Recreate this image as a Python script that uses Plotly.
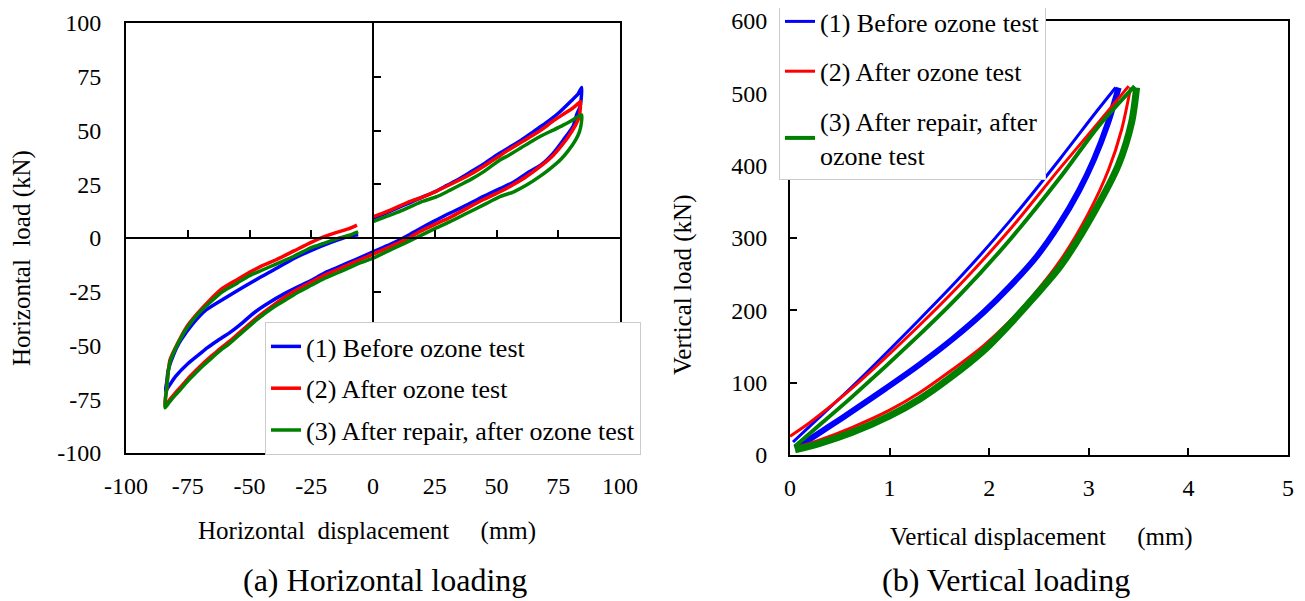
import plotly.graph_objects as go

# ---------------- data: (a) horizontal loading (path: upper-right -> peak -> lower -> bottom-left -> upper-left)
h_names = ["(1) Before ozone test", "(2) After ozone test", "(3) After repair, after ozone test"]
h_colors = ["#0000FF", "#FF0000", "#008000"]

h1_x = [0, 5, 10, 15, 20, 25, 30, 35, 40, 45, 50, 55, 60, 65, 70, 75, 80, 83, 84.5,
        84.3, 83.8, 82.5, 81, 77, 73, 68, 62.2, 57, 51.4, 45, 37.9, 31, 24.4, 19, 13.6, 7, 0,
        -5, -10, -15, -20, -24.7, -30, -36, -42, -47.6, -54, -58, -63, -67, -70, -75, -80, -84,
        -83.5, -83, -82, -81, -79.5, -77.7, -73, -67.6, -60, -53.3, -46, -39, -32, -24.7, -17, -10.4, -6]
h1_y = [9.2, 11.5, 14, 16.5, 19, 21.5, 24.5, 27.5, 31, 34.5, 38.5, 42, 45.5, 49.5, 53.5, 58, 63.5, 67, 70,
        65, 61, 57.5, 52, 45.5, 39.5, 34, 30, 26, 23, 19.5, 15.3, 11.5, 7.6, 4.3, 0.8, -3, -6.4,
        -9, -11.5, -14, -16.5, -19.5, -22.5, -26, -30, -34.3, -40.5, -44, -47.8, -51, -53.8, -58.5, -64.5, -71,
        -67, -62, -58, -55, -51, -47.4, -40, -33.5, -28, -23.4, -18.5, -14.1, -9.5, -5.6, -2, 0.6, 1.5]

h2_x = [0, 5, 10, 15, 20, 25.8, 30, 35, 40, 45, 51.4, 55, 60, 65, 69, 73, 77, 81, 83, 84,
        83.9, 83.5, 82, 79, 76, 73, 68, 62, 57, 51.4, 45, 38, 31, 24.4, 19, 13.6, 7, 0,
        -5, -10, -15, -20, -25, -30, -35, -40, -47, -54, -58, -62, -65, -68.7, -72, -75, -78, -80, -82.5, -84.2,
        -84, -83.5, -83, -82.2, -80, -78, -75.4, -71, -66, -61, -55.2, -50, -45, -39, -32, -25, -20, -15, -10, -6.5]
h2_y = [9.8, 12, 14.5, 17, 19, 21.8, 24.2, 27, 30, 33.5, 38.3, 41, 44.5, 48, 51, 54.5, 57.5, 60.5, 62.5, 63.5,
        60, 56.5, 52.5, 47, 42.5, 38.5, 33.5, 28.5, 25, 21.5, 18, 13.8, 9.5, 6, 3, -0.5, -4, -7.5,
        -10, -12.5, -15, -17.5, -20.5, -23.5, -27, -31, -37, -44, -48, -51.5, -54.5, -58.3, -62, -65.5, -69.5, -72, -75.5, -78.4,
        -74, -70, -63, -56.7, -51, -46.5, -41.3, -35, -28.8, -23.5, -19.5, -16, -13, -10, -6, -2, 0.5, 2.5, 4.2, 6]

h3_x = [0, 5, 10, 15, 20, 25.8, 30, 35, 40, 45, 51.4, 55, 60, 65, 69, 73, 77, 81, 83, 84.5,
        84.3, 83.6, 82, 79, 76, 72, 68, 62, 57, 51.4, 45, 38, 31, 24.4, 19, 13.6, 7, 0,
        -5, -10, -15, -20, -25, -30, -35, -40, -47, -54, -58, -62, -65, -68.7, -72, -75, -78, -80, -82.5, -84.2,
        -84, -83.5, -83, -82, -80, -78, -75.4, -71, -66, -61, -55, -50, -45, -39, -32, -25, -20, -15, -10, -6]
h3_y = [7.6, 9.8, 12, 14.5, 17, 19.2, 21.5, 24.5, 27.5, 31, 36.3, 38.5, 42, 45.5, 48, 50.2, 52.5, 55, 56.5, 57.2,
        53, 49.5, 45.5, 40.5, 36.5, 32.5, 29, 24.5, 21.5, 19.2, 15.5, 11.5, 7.5, 4, 1, -2, -5.5, -9.4,
        -11.5, -14, -16.5, -19, -22, -25, -28.5, -32, -38, -45, -49, -52.5, -55.5, -59.3, -63, -66.5, -70.5, -73, -76.5, -79,
        -74.5, -70, -63, -57, -51.5, -47, -42, -35.5, -30, -25, -21, -17.5, -15, -12, -8.5, -4.5, -2.5, -0.5, 1.2, 2.9]

h_xs = [h1_x, h2_x, h3_x]
h_ys = [h1_y, h2_y, h3_y]

# ---------------- data: (b) vertical loading (loading branch origin -> peak, unloading branch peak -> origin)
v_names = ["(1) Before ozone test", "(2) After ozone test", "(3) After repair, after<br>ozone test"]
v_colors = ["#0000FF", "#FF0000", "#008000"]

v1_load_x = [0.05, 0.2, 0.4, 0.62, 0.96, 1.3, 1.63, 1.95, 2.2, 2.48, 2.7, 2.9, 3.05, 3.19, 3.3]
v1_load_y = [10, 22, 40, 60, 92, 125, 160, 198, 232, 275, 318, 365, 408, 458, 508]
v1_unl_x = [3.27, 3.05, 2.72, 2.21, 1.71, 1.29, 0.62, 0.2, 0.03]
v1_unl_y = [508, 470, 411, 324, 246, 186, 94, 40, 18]

v2_load_x = [0.05, 0.3, 0.62, 1.0, 1.3, 1.6, 1.95, 2.2, 2.45, 2.72, 3.0, 3.2, 3.33, 3.42]
v2_load_y = [10, 21, 38, 62, 86, 115, 152, 184, 222, 270, 335, 395, 450, 508]
v2_unl_x = [3.4, 3.1, 2.72, 2.21, 1.71, 1.29, 0.62, 0.2, 0.0]
v2_unl_y = [510, 460, 398, 312, 236, 178, 92, 45, 26]

v3_load_x = [0.05, 0.3, 0.62, 1.0, 1.3, 1.6, 1.95, 2.2, 2.45, 2.72, 3.05, 3.3, 3.43, 3.48]
v3_load_y = [7, 16, 31, 54, 77, 106, 145, 180, 218, 262, 335, 402, 460, 508]
v3_unl_x = [3.46, 3.1, 2.72, 2.21, 1.71, 1.29, 0.62, 0.25, 0.05]
v3_unl_y = [510, 455, 385, 298, 222, 165, 80, 36, 12]

v_load = [(v1_load_x, v1_load_y), (v2_load_x, v2_load_y), (v3_load_x, v3_load_y)]
v_unl = [(v1_unl_x, v1_unl_y), (v2_unl_x, v2_unl_y), (v3_unl_x, v3_unl_y)]
v_load_w = [6, 3, 7]
v_unl_w = [3, 3, 4]

h_ticks = [-100, -75, -50, -25, 0, 25, 50, 75, 100]
h_ticktext = ["-100", "-75", "-50", "-25", "0", "25", "50", "75", "100"]
h_cross_ticks = [-75, -50, -25, 25, 50, 75]
v_xticks = [0, 1, 2, 3, 4, 5]
v_yticks = [0, 100, 200, 300, 400, 500, 600]

FONT = "Liberation Serif, Times New Roman, serif"
W, H = 1305, 601
OFF = 8  # default page body margin of the written html

fig = go.Figure()

# left-chart traces spread over main + cross (overlay) axes so that the cross axes are drawn
h_axes = [("x", "y"), ("x", "y3"), ("x3", "y")]
for i in range(3):
    fig.add_trace(go.Scatter(
        x=h_xs[i], y=h_ys[i], mode="lines", name=h_names[i],
        line=dict(color=h_colors[i], width=3.5, shape="spline", smoothing=0.6),
        xaxis=h_axes[i][0], yaxis=h_axes[i][1], legend="legend", legendgroup="h%d" % i))

for i in range(3):
    lx, ly = v_load[i]
    ux, uy = v_unl[i]
    fig.add_trace(go.Scatter(
        x=ux, y=uy, mode="lines", name=v_names[i],
        line=dict(color=v_colors[i], width=v_unl_w[i], shape="spline", smoothing=0.8),
        xaxis="x2", yaxis="y2", legend="legend2", legendgroup="v%d" % i))
    fig.add_trace(go.Scatter(
        x=lx, y=ly, mode="lines", name=v_names[i], showlegend=False,
        line=dict(color=v_colors[i], width=v_load_w[i], shape="spline", smoothing=0.8),
        xaxis="x2", yaxis="y2", legend="legend2", legendgroup="v%d" % i))

# plot areas in page pixels
L_x0, L_x1, L_y0, L_y1 = 126, 620, 23, 453
R_x0, R_x1, R_y0, R_y1 = 790, 1288, 21, 455
def px(x): return (x - OFF) / W
def py(y): return 1 - (y - OFF) / H

tickfont = dict(family=FONT, size=24, color="black")
frame = dict(showline=True, linecolor="black", linewidth=2, mirror=True, automargin=False,
             showgrid=False, zeroline=False, tickfont=tickfont)
cross = dict(ticks="inside", ticklen=7, tickwidth=2, tickcolor="black", automargin=False,
             showticklabels=False, showline=True, linecolor="black", linewidth=2,
             showgrid=False, zeroline=False)

fig.update_layout(
    template="none",
    width=W, height=H, margin=dict(l=0, r=0, t=0, b=0, pad=0, autoexpand=False),
    paper_bgcolor="white", plot_bgcolor="white",
    font=dict(family=FONT, color="black"),
    xaxis=dict(domain=[px(L_x0), px(L_x1)], range=[-100, 100], tickvals=h_ticks, ticktext=h_ticktext,
               ticks="", anchor="y", ticklabelstandoff=10, **frame),
    yaxis=dict(domain=[py(L_y1), py(L_y0)], range=[-100, 100], tickvals=h_ticks, ticktext=h_ticktext,
               ticks="", anchor="x", ticklabelstandoff=18, **frame),
    xaxis3=dict(overlaying="x", anchor="free", position=(py(L_y1) + py(L_y0)) / 2,
                range=[-100, 100], tickvals=h_cross_ticks, side="bottom", **cross),
    yaxis3=dict(overlaying="y", anchor="free", position=(px(L_x0) + px(L_x1)) / 2,
                range=[-100, 100], tickvals=h_cross_ticks, side="left", **cross),
    xaxis2=dict(domain=[px(R_x0), px(R_x1)], range=[0, 5], tickvals=v_xticks,
                ticks="inside", ticklen=7, tickwidth=2, tickcolor="black",
                anchor="y2", ticklabelstandoff=10, **frame),
    yaxis2=dict(domain=[py(R_y1), py(R_y0)], range=[0, 600], tickvals=v_yticks,
                ticks="inside", ticklen=7, tickwidth=2, tickcolor="black",
                anchor="x2", ticklabelstandoff=16, **frame),
    legend=dict(x=px(265), y=py(322), xanchor="left", yanchor="top",
                bgcolor="white", bordercolor="#cccccc", borderwidth=1,
                font=dict(family=FONT, size=26, color="black"),
                traceorder="grouped", tracegroupgap=5, itemwidth=30),
    legend2=dict(x=px(779), y=py(-3), xanchor="left", yanchor="top",
                 bgcolor="white", bordercolor="#cccccc", borderwidth=1,
                 font=dict(family=FONT, size=26, color="black"),
                 traceorder="grouped", tracegroupgap=13, itemwidth=30),
    showlegend=True,
)

nb = "\u00a0"
ann = [
    dict(text="Horizontal" + nb * 2 + "displacement" + nb * 5 + "(mm)", x=px(367), y=py(531), size=25, angle=0),
    dict(text="(a) Horizontal loading", x=px(385), y=py(580), size=32, angle=0),
    dict(text="Horizontal" + nb * 2 + "load (kN)", x=px(22), y=py(258), size=25, angle=-90),
    dict(text="Vertical" + nb + "displacement" + nb * 5 + "(mm)", x=px(1041), y=py(537), size=25, angle=0),
    dict(text="(b) Vertical loading", x=px(1006), y=py(580), size=32, angle=0),
    dict(text="Vertical load (kN)", x=px(683), y=py(285), size=25, angle=-90),
]
for a in ann:
    fig.add_annotation(text=a["text"], x=a["x"], y=a["y"], xref="paper", yref="paper",
                       xanchor="center", yanchor="middle", showarrow=False,
                       textangle=a["angle"], font=dict(family=FONT, size=a["size"], color="black"))

fig.write_html("out.html")
